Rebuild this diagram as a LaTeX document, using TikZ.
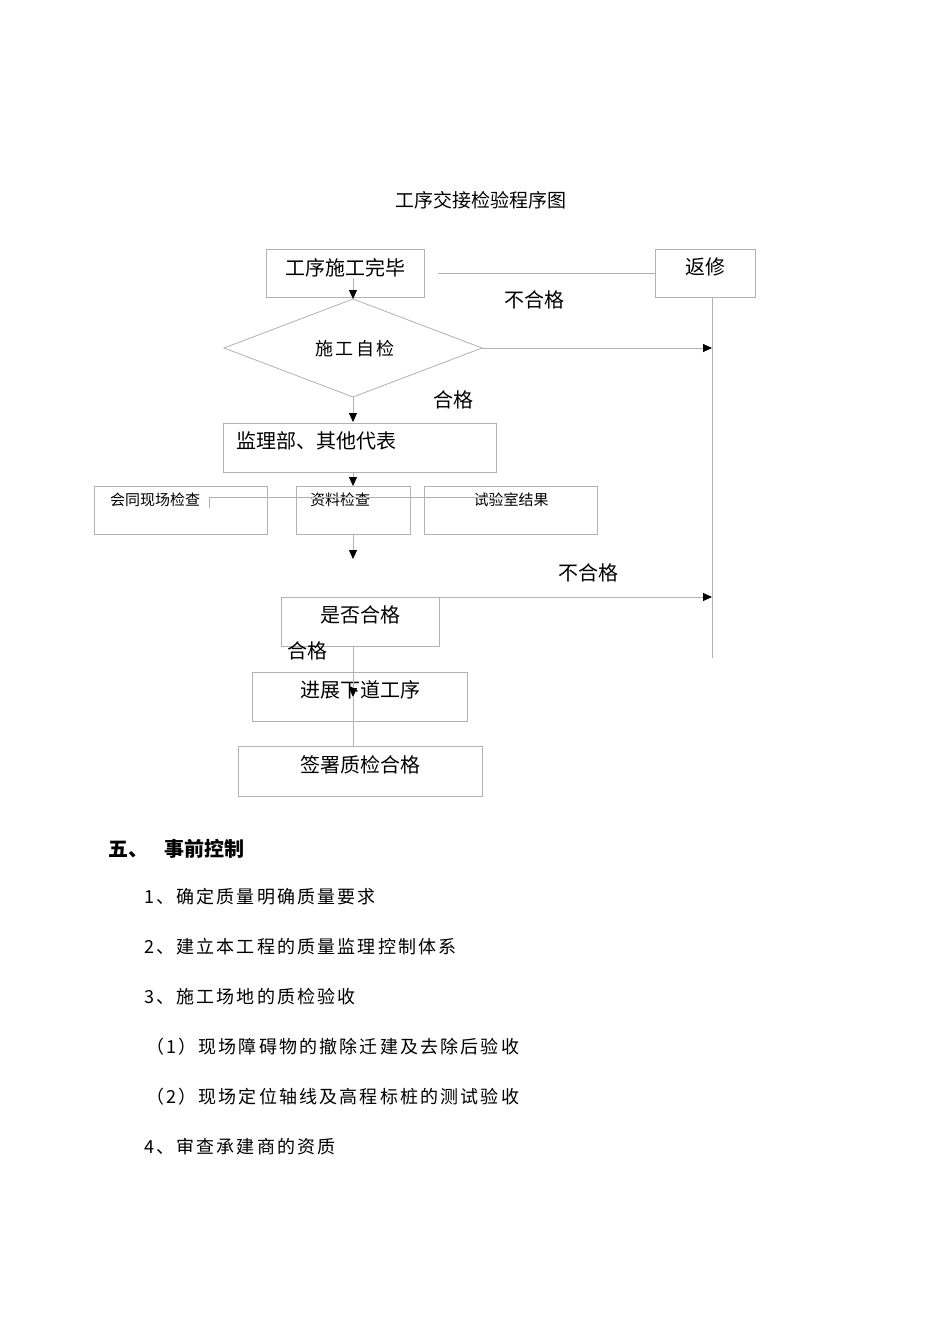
\documentclass[tikz,border=0pt]{standalone}
\usepackage{fontspec}
\setmainfont{Noto Sans CJK SC}
\newfontfamily\spaced[LetterSpace=12]{Noto Sans CJK SC}
\usetikzlibrary{arrows.meta}
\tikzset{x=1pt,y=-1pt,
 ln/.style={draw=black!30,line width=0.8pt},
 bx/.style={draw=black!30,line width=0.8pt},
 ar/.style={ln,-{Triangle[length=9pt,width=8pt,fill=black,color=black]}},
 tx/.style={font=\fontsize{20}{20}\selectfont,inner sep=0pt},
 sm/.style={font=\fontsize{15}{15}\selectfont,inner sep=0pt},
 it/.style={font=\fontsize{18}{18}\spaced,inner sep=0pt,anchor=west}}
\begin{document}
\begin{tikzpicture}
\useasboundingbox[fill=white] (0,0) rectangle (950,1344);
\node[tx,font=\fontsize{19}{19}\selectfont] (title) at (481,200) {工序交接检验程序图};
% boxes
\draw[bx] (266,249) rectangle (424,297); \node[tx] (b1) at (345,268) {工序施工完毕};
\draw[bx] (655,249) rectangle (755,297); \node[tx] (fx) at (705,267) {返修};
\coordinate (d1t) at (353,299); \coordinate (d1b) at (353,397);
\coordinate (d1r) at (482,348); \coordinate (d1l) at (224,348);
\draw[bx] (d1t) -- (d1r) -- (d1b) -- (d1l) -- cycle;
\node[tx,font=\fontsize{18}{18}\spaced] (d1) at (355,349) {施工自检};
\draw[bx] (223,423) rectangle (496,472); \node[tx,anchor=west] (jl) at (236,441) {监理部、其他代表};
\draw[bx] (94,486) rectangle (267,534); \node[sm] (c1) at (155,500) {会同现场检查};
\draw[bx] (296,486) rectangle (410,534); \node[sm] (c2) at (340,500) {资料检查};
\draw[bx] (424,486) rectangle (597,534); \node[sm] (c3) at (511,500) {试验室结果};
\draw[bx] (281,597) rectangle (439,646); \node[tx] (sf) at (360,615) {是否合格};
\node[tx] (hg2) at (307,651) {合格};
\draw[bx] (252,672) rectangle (467,721); \node[tx] (jz) at (360,690) {进展下道工序};
\draw[bx] (238,746) rectangle (482,796); \node[tx] (qs) at (360,765) {签署质检合格};
% labels
\node[tx] (bh1) at (534,300) {不合格};
\node[tx] (hg1) at (453,400) {合格};
\node[tx] (bh2) at (588,573) {不合格};
% connectors
\coordinate (r1) at (438,273); \coordinate (r2) at (655,273);
\draw[ln] (r1) -- (r2);
\coordinate (vt) at (712,297); \coordinate (vb) at (712,658);
\draw[ln] (vt) -- (vb);
\coordinate (a1s) at (353,278); \draw[ar] (a1s) -- (d1t);
\coordinate (a2e) at (712,348); \draw[ar] (d1r) -- (a2e);
\coordinate (a3e) at (353,422); \draw[ar] (d1b) -- (a3e);
\coordinate (a4s) at (353,472); \coordinate (a4e) at (353,486); \draw[ar] (a4s) -- (a4e);
\coordinate (h1) at (209,508); \coordinate (h2) at (209,497); \coordinate (h3) at (515,497);
\draw[ln] (h1) -- (h2) -- (h3);
\coordinate (a5s) at (353,534); \coordinate (a5e) at (353,559); \draw[ar] (a5s) -- (a5e);
\coordinate (a6s) at (439,597); \coordinate (a6e) at (712,597); \draw[ar] (a6s) -- (a6e);
\coordinate (a7s) at (353,646); \coordinate (a7e) at (353,697); \draw[ar] (a7s) -- (a7e);
\coordinate (a8s) at (353,697); \coordinate (a8e) at (353,746); \draw[ln] (a8s) -- (a8e);
% text section
\node[it,font=\fontsize{20}{20}\selectfont\bfseries] (h5) at (108,849) {五、\hspace{16pt}事前控制};
\node[it] (l1) at (144,897) {1、确定质量明确质量要求};
\node[it] (l2) at (144,947) {2、建立本工程的质量监理控制体系};
\node[it] (l3) at (144,997) {3、施工场地的质检验收};
\node[it] (l4) at (146,1047) {（1）现场障碍物的撤除迁建及去除后验收};
\node[it] (l5) at (146,1097) {（2）现场定位轴线及高程标桩的测试验收};
\node[it] (l6) at (144,1147) {4、审查承建商的资质};
\end{tikzpicture}
\end{document}
